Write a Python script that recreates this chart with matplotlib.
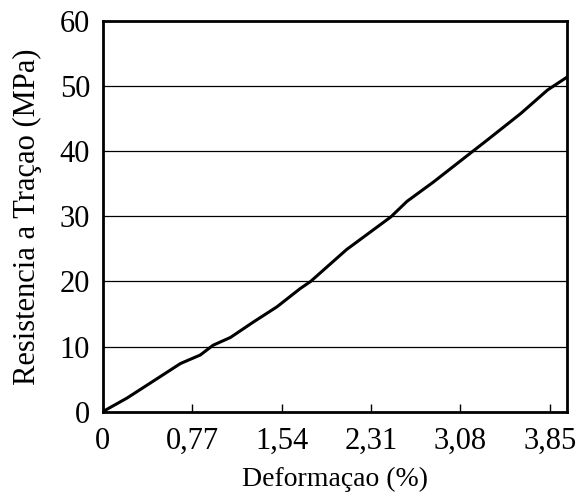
import numpy as np
import matplotlib.pyplot as plt

# curva tensao x deformacao
deformacao = [0, 0.21, 0.41, 0.67, 0.84, 0.95, 1.10, 1.30, 1.50, 1.70, 1.79,
              2.10, 2.48, 2.62, 2.85, 3.18, 3.31, 3.60, 3.83, 4.0]
resistencia = [0, 2.1, 4.4, 7.4, 8.7, 10.2, 11.4, 13.8, 16.1, 18.9, 20.0,
               24.9, 29.9, 32.3, 35.3, 39.9, 41.7, 45.8, 49.4, 51.4]
xticks = [0, 0.77, 1.54, 2.31, 3.08, 3.85]
xlabels = ["0", "0,77", "1,54", "2,31", "3,08", "3,85"]
yticks = [0, 10, 20, 30, 40, 50, 60]

plt.rcParams['font.family'] = ['Liberation Serif', 'DejaVu Serif']
plt.rcParams['font.size'] = 22

fig = plt.figure(figsize=(5.79, 4.99), dpi=100)
ax = fig.add_axes([0.1774, 0.175, 0.8024, 0.783])

for y in yticks[1:-1]:
    ax.axhline(y, color='black', lw=0.9, zorder=1)

ax.plot(deformacao, resistencia, color='black', lw=2.2, zorder=3)

ax.set_xlim(0, 4.0)
ax.set_ylim(0, 60)
ax.set_xticks(xticks)
ax.set_xticklabels(xlabels)
ax.set_yticks(yticks)
ax.tick_params(axis='x', direction='in', length=6, width=1, pad=11)
ax.tick_params(axis='y', length=0, pad=9)
for s in ax.spines.values():
    s.set_linewidth(2)

ax.set_xlabel('Deformaçao (%)', fontsize=20, labelpad=8)
ax.set_ylabel('Resistencia a Traçao (MPa)', fontsize=22, labelpad=13)

plt.savefig('out.png', dpi=100)
